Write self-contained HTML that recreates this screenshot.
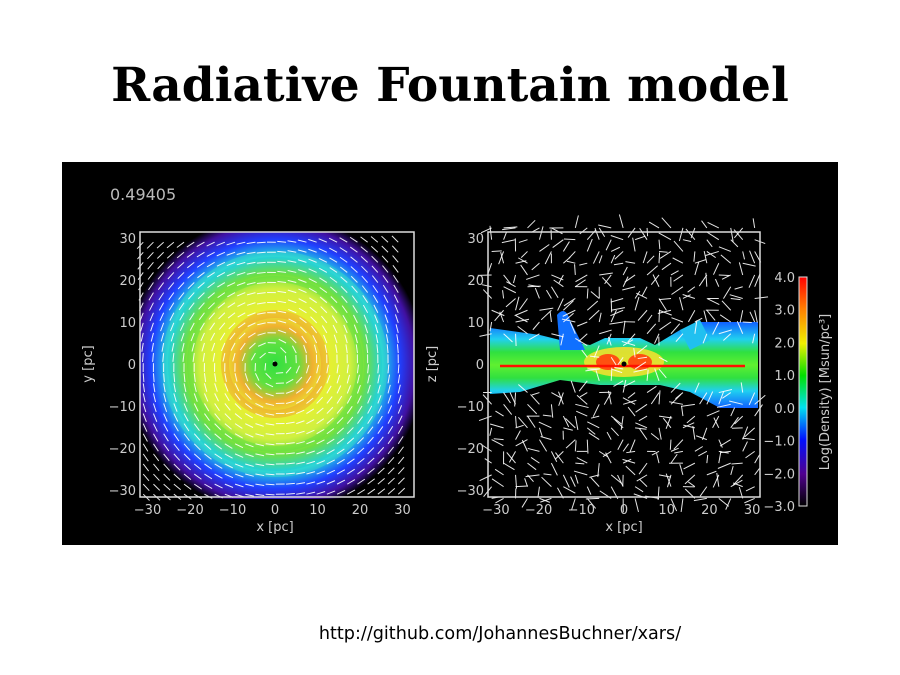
<!DOCTYPE html>
<html><head><meta charset="utf-8"><style>
html,body{margin:0;padding:0;background:#fff;width:900px;height:675px;overflow:hidden}
svg text{font-family:"DejaVu Sans","Liberation Sans",sans-serif}
</style></head><body>
<svg width="900" height="675" viewBox="0 0 900 675" xmlns="http://www.w3.org/2000/svg">
<defs>
<radialGradient id="disc" cx="275" cy="364" r="150" gradientUnits="userSpaceOnUse">
<stop offset="0" stop-color="#30e040"/><stop offset="0.15" stop-color="#60e040"/>
<stop offset="0.25" stop-color="#f0b030"/><stop offset="0.35" stop-color="#e8f030"/>
<stop offset="0.5" stop-color="#d0f040"/><stop offset="0.6" stop-color="#70e040"/>
<stop offset="0.72" stop-color="#20d0e0"/><stop offset="0.83" stop-color="#2040ff"/>
<stop offset="0.93" stop-color="#4010a0"/><stop offset="1" stop-color="#000"/>
</radialGradient>
<linearGradient id="band" x1="0" y1="0" x2="0" y2="1">
<stop offset="0" stop-color="#1060ff"/><stop offset="0.2" stop-color="#20d0f0"/>
<stop offset="0.35" stop-color="#30e040"/><stop offset="0.5" stop-color="#60f030"/>
<stop offset="0.65" stop-color="#30e040"/><stop offset="0.8" stop-color="#20d0f0"/>
<stop offset="1" stop-color="#1060ff"/>
</linearGradient>
<linearGradient id="cbar" x1="0" y1="1" x2="0" y2="0">
<stop offset="0" stop-color="#000"/><stop offset="0.14" stop-color="#500090"/>
<stop offset="0.29" stop-color="#0010ff"/><stop offset="0.43" stop-color="#00e0f0"/>
<stop offset="0.57" stop-color="#00e000"/><stop offset="0.71" stop-color="#f0f000"/>
<stop offset="0.86" stop-color="#ff8000"/><stop offset="1" stop-color="#ff0000"/>
</linearGradient>
<clipPath id="lc"><rect x="140" y="232" width="274" height="267"/></clipPath>
</defs>
<text x="450" y="101" text-anchor="middle" style="font-family:'DejaVu Serif','Liberation Serif',serif" font-weight="bold" font-size="47" fill="#000">Radiative Fountain model</text>
<rect x="62" y="162" width="776" height="383" fill="#000"/>
<text x="110" y="200" font-size="16" fill="#bbb">0.49405</text>
<g clip-path="url(#lc)">
<rect x="140" y="232" width="274" height="267" rx="70" fill="url(#disc)"/>
<circle cx="275" cy="364" r="50" fill="none" stroke="#f0a030" stroke-width="8" opacity="0.5"/>
<circle cx="275" cy="364" r="85" fill="none" stroke="#60e040" stroke-width="6" opacity="0.5"/>
<circle cx="275" cy="364" r="110" fill="none" stroke="#40e0c0" stroke-width="6" opacity="0.4"/>
</g>
<g id="leftArrows"></g>
<circle cx="275" cy="364" r="2.5" fill="#000"/>
<g>
<path d="M490 328 L540 335 L560 340 L590 345 L605 338 L640 338 L655 345 L680 330 L700 322 L758 322 L758 408 L720 408 L690 392 L660 385 L600 385 L560 380 L520 392 L490 394 Z" fill="url(#band)"/>
<path d="M557 315 Q565 305 570 320 L585 350 L560 350 Z" fill="#1070ff"/>
<path d="M680 330 L700 320 L710 340 L690 350 Z" fill="#20c0f0"/>
<ellipse cx="624" cy="362" rx="40" ry="15" fill="#f0e030" opacity="0.9"/>
<ellipse cx="608" cy="362" rx="12" ry="8" fill="#ff5010"/>
<ellipse cx="640" cy="362" rx="12" ry="8" fill="#ff5010"/>
<line x1="500" y1="366" x2="745" y2="366" stroke="#ff1000" stroke-width="2.5"/>
</g>
<g id="rightArrows"></g>
<circle cx="624" cy="364" r="2.5" fill="#000"/>
<g id="axes" fill="#ccc" font-size="13"></g>
<rect x="799" y="277" width="8" height="229" fill="url(#cbar)" stroke="#ddd" stroke-width="1"/>
<text transform="translate(829,392) rotate(-90)" text-anchor="middle" font-size="13" fill="#ccc">Log(Density) [Msun/pc³]</text>
<text x="500" y="639" text-anchor="middle" style="font-family:'DejaVu Sans',sans-serif" font-size="17.6" fill="#000">http://github.com/JohannesBuchner/xars/</text>
</svg>
<script>
const axisTicks=[-30,-20,-10,0,10,20,30];
const cbarTicks=[4.0,3.0,2.0,1.0,0.0,-1.0,-2.0,-3.0];
const NS="http://www.w3.org/2000/svg";
function mk(tag,attrs,parent){const e=document.createElementNS(NS,tag);for(const k in attrs)e.setAttribute(k,attrs[k]);parent.appendChild(e);return e;}
const ax=document.getElementById('axes');
function lx(v){return 275+v*4.25;} function ly(v){return 364-v*4.2;}
function rx(v){return 624+v*4.27;} function ry(v){return 364-v*4.2;}
function fmt(v){return (v<0?'\u2212':'')+Math.abs(v);}
let f1=mk('rect',{x:140,y:232,width:274,height:265,fill:'none',stroke:'#ddd','stroke-width':1.5},ax);


let f2=mk('rect',{x:488,y:232,width:272,height:265,fill:'none',stroke:'#ddd','stroke-width':1.5},ax);


axisTicks.forEach(v=>{
 let t=mk('text',{x:lx(v),y:514,'text-anchor':'middle'},ax);t.textContent=fmt(v);
 
 
 t=mk('text',{x:136,y:ly(v)+5,'text-anchor':'end'},ax);t.textContent=fmt(v);
 
 
 t=mk('text',{x:rx(v),y:514,'text-anchor':'middle'},ax);t.textContent=fmt(v);
 
 
 t=mk('text',{x:484,y:ry(v)+5,'text-anchor':'end'},ax);t.textContent=fmt(v);
 
 
});
[[275,'face-on-x-title'],[624,'edge-on-x-title']].forEach(([x,n])=>{let t=mk('text',{x:x,y:531,'text-anchor':'middle'},ax);t.textContent='x [pc]';
 
 });
[[92,'face-on-y-title','y [pc]'],[436,'edge-on-z-title','z [pc]']].forEach(([x,n,s])=>{let t=mk('text',{transform:`translate(${x},364) rotate(-90)`,'text-anchor':'middle'},ax);t.textContent=s;
 
 });
cbarTicks.forEach((v,i)=>{const y=277+(4-v)/7*229;
 let t=mk('text',{x:795,y:y+5,'text-anchor':'end'},ax);t.textContent=v.toFixed(1).replace('-','\u2212');
 
 });
const la=document.getElementById('leftArrows'),ra=document.getElementById('rightArrows');
for(let i=-31;i<=31;i+=2.4)for(let j=-31;j<=31;j+=2.4){
 const r=Math.hypot(i,j)+0.5,L=9;
 const dx=-j/r,dy=i/r;
 const x=lx(i),y=ly(j);
 mk('line',{x1:x,y1:y,x2:x+dx*L,y2:y-dy*L,stroke:'#fff','stroke-width':1,opacity:0.9},la);
}
for(let i=-31;i<=31;i+=2.8)for(let j=-32;j<=33;j+=2.8){
 if(Math.abs(j)<6&&Math.abs(i)>10)continue;
 const a=Math.sin(i*1.7+j*0.9)*3+Math.cos(j*1.3);
 const L=8+6*Math.abs(Math.sin(i*0.7*j));
 const x=rx(i),y=ry(j);
 mk('line',{x1:x,y1:y,x2:x+Math.cos(a)*L,y2:y+Math.sin(a)*L,stroke:'#fff','stroke-width':1,opacity:0.9},ra);
}
</script>
</body></html>
